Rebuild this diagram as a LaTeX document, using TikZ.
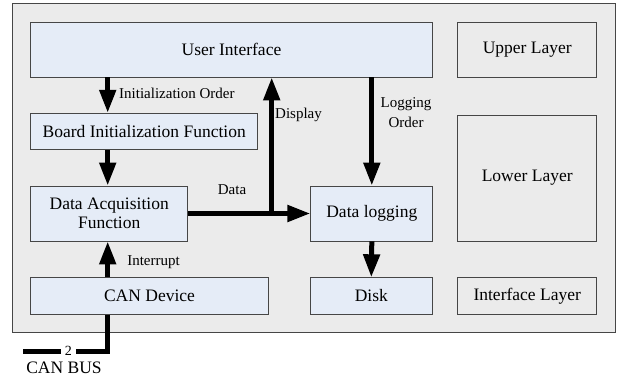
\documentclass[tikz,border=0pt]{standalone}
\usepackage{fontspec}
\setmainfont{Liberation Serif}
\usetikzlibrary{arrows.meta,calc}
\definecolor{outerfill}{RGB}{235,235,235}
\definecolor{boxfill}{RGB}{229,236,247}
\definecolor{edgegray}{RGB}{70,70,70}
\tikzset{
  blk/.style={draw=edgegray, line width=0.9pt, fill=boxfill, inner sep=0pt, font=\fontsize{17.5}{19}\selectfont, align=center},
  layer/.style={draw=edgegray, line width=0.9pt, fill=outerfill, inner sep=0pt, font=\fontsize{17.5}{19}\selectfont, align=center},
  flow/.style={line width=5pt, -{Triangle[length=23pt,width=16pt]}},
  lbl/.style={font=\fontsize{15}{17}\selectfont, inner sep=1pt, align=center},
}
\begin{document}
\begin{tikzpicture}[x=1pt,y=-1pt]
\useasboundingbox (0,0) rectangle (617,379);
\fill[white] (0,0) rectangle (617,379);
\draw[draw=edgegray, line width=1pt, fill=outerfill] (12,4) rectangle (615,332);
% blocks
\node[blk, minimum width=402pt, minimum height=55pt] (ui) at (231.5,49.5) {User Interface};
\node[blk, minimum width=227pt, minimum height=36.5pt] (board) at (144.2,131.5) {Board Initialization Function};
\node[blk, minimum width=157pt, minimum height=55pt] (dacq) at (109.2,213.5) {Data Acquisition\\Function};
\node[blk, minimum width=237.6pt, minimum height=36.5pt] (can) at (149.5,296) {CAN Device};
\node[blk, minimum width=122pt, minimum height=55pt] (dlog) at (371.8,213.5) {Data logging};
\node[blk, minimum width=122.7pt, minimum height=36.5pt] (disk) at (371.3,296) {Disk};
\node[layer, minimum width=139pt, minimum height=55pt] (upper) at (527.2,49.5) {Upper Layer};
\node[layer, minimum width=139pt, minimum height=126pt] (lower) at (527.2,178) {Lower Layer};
\node[layer, minimum width=139pt, minimum height=36.5pt] (iface) at (527.2,296) {Interface Layer};
% connectors
\coordinate (split) at (271.7,213.5);
\coordinate (corner) at (107.7,351.7);
\coordinate (busend) at (23,351.7);
\draw[flow] (ui.south -| 107.7,0) -- (board.north -| 107.7,0)
  node[lbl, anchor=west, pos=0.45, xshift=8pt] {Initialization Order};
\draw[flow] (board.south -| 107.7,0) -- (dacq.north -| 107.7,0);
\draw[flow] (dacq.east) -- (dlog.west);
\draw[flow] (split) -- (split |- ui.south);
\draw[flow] (ui.south -| dlog.north) -- (dlog.north);
\draw[flow] (dlog.south) -- (disk.north);
\draw[flow] (can.north -| 107.7,0) -- (dacq.south -| 107.7,0);
\draw[line width=5pt] (can.south -| corner) -- (corner) -- (busend);
\node[fill=white, inner xsep=4pt, inner ysep=1pt, font=\fontsize{14}{15}\selectfont] (two) at (68.3,351.2) {2};
% labels
\node[lbl] (lInit) at (232,190) {Data};
\node[lbl] (lDisp) at (298.5,115) {Display};
\node[lbl, font=\fontsize{15}{20}\selectfont] (lLog) at (406,113) {Logging\\Order};
\node[lbl] (lInt) at (153.5,262) {Interrupt};
\node[font=\fontsize{17.5}{19}\selectfont, inner sep=0pt] (lbus) at (64,368) {CAN BUS};
\end{tikzpicture}
\end{document}
